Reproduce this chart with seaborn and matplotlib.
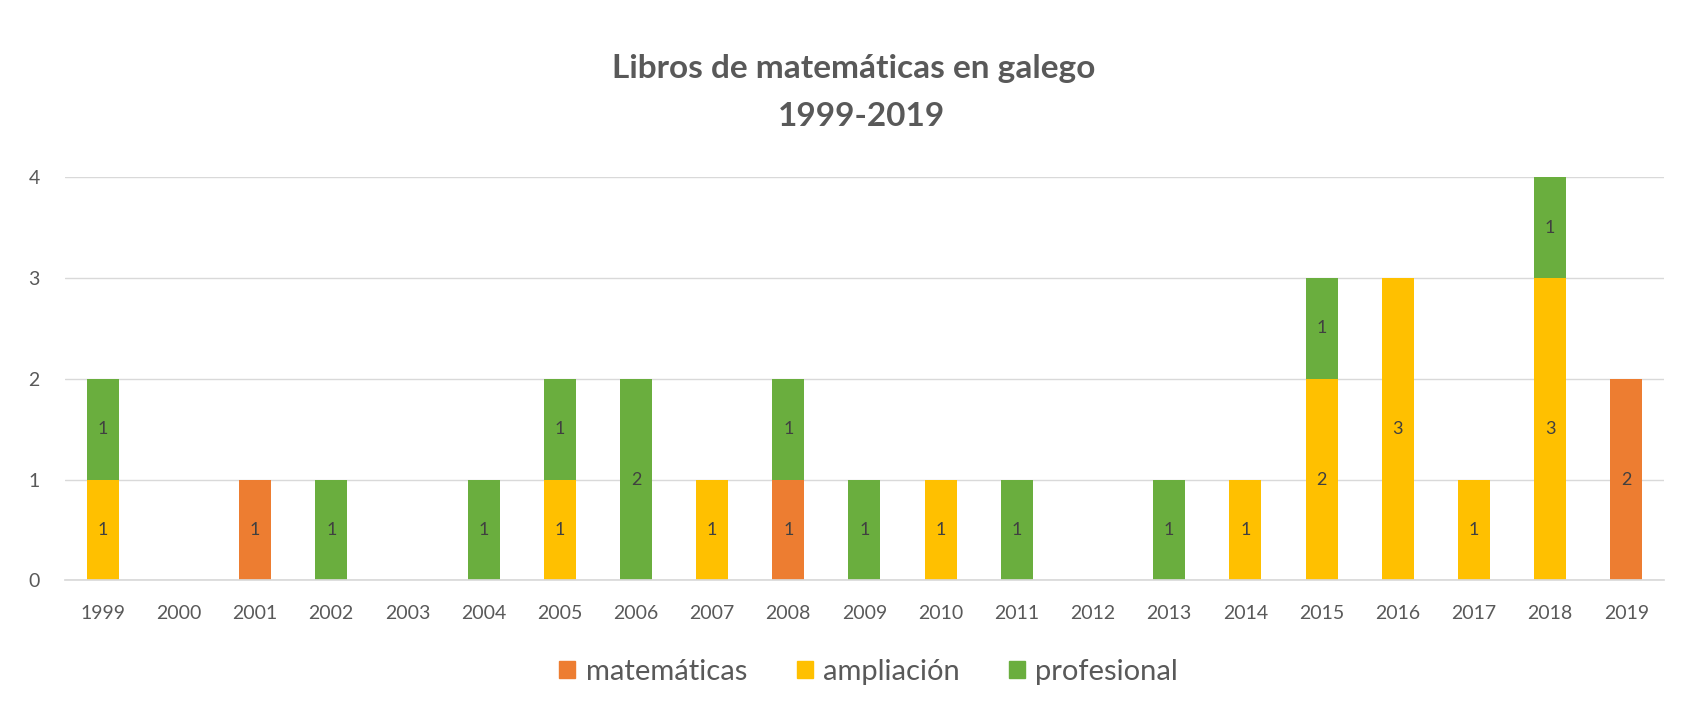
import numpy as np
import pandas as pd
import seaborn as sns
import matplotlib.pyplot as plt

# Data
years = [str(y) for y in range(1999, 2020)]
matematicas = [0, 0, 1, 0, 0, 0, 0, 0, 0, 1, 0, 0, 0, 0, 0, 0, 0, 0, 0, 0, 2]
ampliacion = [1, 0, 0, 0, 0, 0, 1, 0, 1, 0, 0, 1, 0, 0, 0, 1, 2, 3, 1, 3, 0]
profesional = [1, 0, 0, 1, 0, 1, 1, 2, 0, 1, 1, 0, 1, 0, 1, 0, 1, 0, 0, 1, 0]

series = ['matemáticas', 'ampliación', 'profesional']
colors = ['#ED7D31', '#FFC000', '#6AAE3E']

df = pd.DataFrame({'year': years, 'matemáticas': matematicas,
                   'ampliación': ampliacion, 'profesional': profesional})
# cumulative tops for overlay stacking
df['c0'] = df['matemáticas']
df['c1'] = df['c0'] + df['ampliación']
df['c2'] = df['c1'] + df['profesional']

sns.set_theme(style='white')
plt.rcParams['font.family'] = ['Lato', 'DejaVu Sans']

fig = plt.figure(figsize=(17, 7.2), dpi=100)
ax = fig.add_axes([0.038, 0.194, 0.941, 0.56])

# draw from the tallest cumulative down so each segment shows
for col, c in zip(['c2', 'c1', 'c0'], colors[::-1]):
    sns.barplot(data=df, x='year', y=col, color=c, width=0.42,
                saturation=1, linewidth=0, ax=ax, zorder=2)

# segment labels
for i, row in df.iterrows():
    base = 0
    for s in series:
        v = row[s]
        if v > 0:
            ax.text(i, base + v / 2, str(v), ha='center', va='center',
                    fontsize=13, color='#404040', zorder=3)
        base += v

ax.set_ylim(0, 4)
ax.set_yticks([0, 1, 2, 3, 4])
ax.set_xlim(-0.5, len(years) - 0.5)
ax.set_xlabel('')
ax.set_ylabel('')
ax.yaxis.grid(True, color='#D9D9D9', linewidth=1, zorder=0)
ax.set_axisbelow(True)
for sp in ['top', 'right', 'left']:
    ax.spines[sp].set_visible(False)
ax.spines['bottom'].set_color('#D9D9D9')
ax.tick_params(axis='both', length=0, labelsize=14, labelcolor='#595959')
ax.tick_params(axis='y', pad=18)
ax.tick_params(axis='x', pad=18)

fig.text(0.502, 0.905, 'Libros de matemáticas en galego', ha='center', va='center',
         fontsize=24, fontweight='bold', color='#595959')
fig.text(0.507, 0.838, '1999-2019', ha='center', va='center',
         fontsize=24, fontweight='bold', color='#595959')

handles = [plt.Rectangle((0, 0), 1, 1, color=c) for c in colors]
fig.legend(handles, series, loc='center', bbox_to_anchor=(0.511, 0.067), ncol=3,
           frameon=False, fontsize=21, labelcolor='#595959', handlelength=0.55,
           handleheight=0.55, handletextpad=0.35, columnspacing=1.7)

fig.savefig('out.png', dpi=100, facecolor='white')
